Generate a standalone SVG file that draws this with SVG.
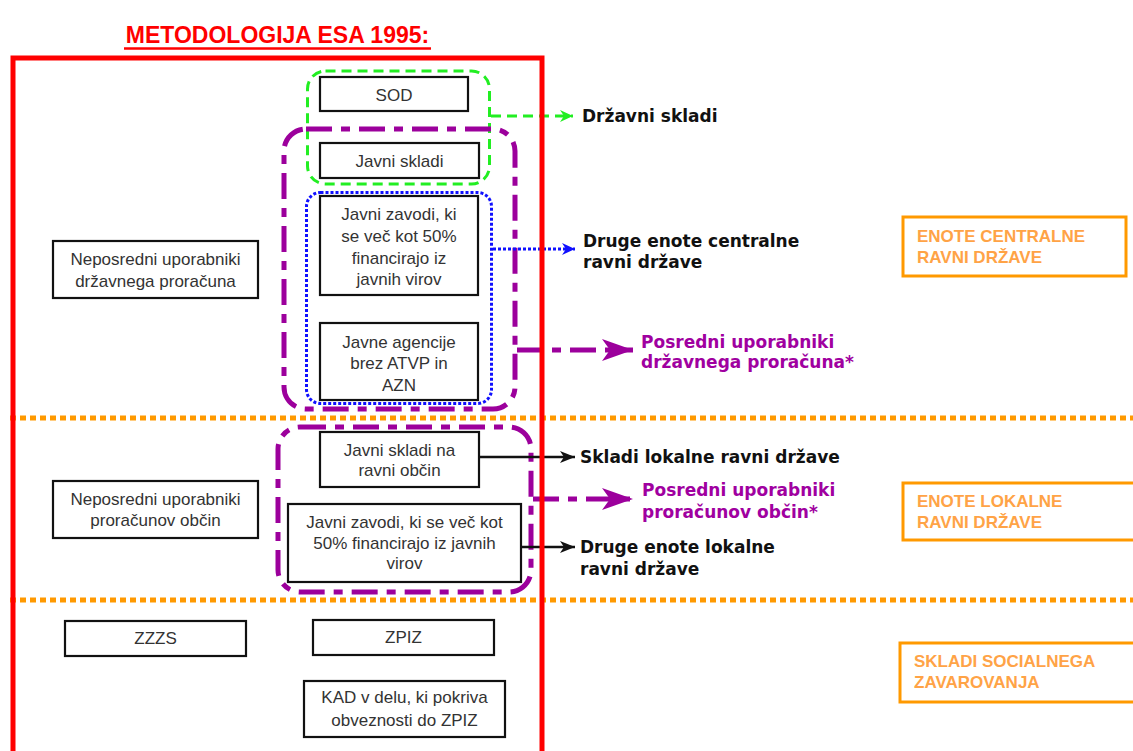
<svg xmlns="http://www.w3.org/2000/svg" width="1133" height="751" viewBox="0 0 1133 751">
  <style>
    .box { fill: #ffffff; stroke: #111111; stroke-width: 2.2; }
    .bt { font-family: "Liberation Sans", Arial, sans-serif; font-size: 17px; fill: #333333; text-anchor: middle; }
    .lbl { font-family: "DejaVu Sans", Verdana, sans-serif; font-size: 17px; font-weight: bold; fill: #111111; }
    .plbl { font-family: "DejaVu Sans", Verdana, sans-serif; font-size: 17px; font-weight: bold; fill: #a000a0; }
    .obox { fill: #ffffff; stroke: #ff9900; stroke-width: 3; }
    .ot { font-family: "Liberation Sans", Arial, sans-serif; font-size: 17px; font-weight: bold; fill: #ffa346; }
    .sep { stroke: #ff9900; stroke-width: 5; stroke-dasharray: 6 4; fill: none; }
    .grp-purple { fill: none; stroke: #9c009c; stroke-width: 5; stroke-dasharray: 26 9 9 9; }
    .grp-green { fill: none; stroke: #22ee22; stroke-width: 3; stroke-dasharray: 10 6; }
    .grp-blue { fill: none; stroke: #1010ff; stroke-width: 3; stroke-dasharray: 3 2; }
  </style>
  <defs>
    <marker id="ah-green" markerUnits="userSpaceOnUse" markerWidth="14" markerHeight="12" refX="13" refY="6" orient="auto">
      <path d="M0,0 L13,6 L0,12 L4,6 Z" fill="#22ee22"/>
    </marker>
    <marker id="ah-blue" markerUnits="userSpaceOnUse" markerWidth="14" markerHeight="12" refX="13" refY="6" orient="auto">
      <path d="M0,0 L13,6 L0,12 L4,6 Z" fill="#1010ff"/>
    </marker>
    <marker id="ah-black" markerUnits="userSpaceOnUse" markerWidth="16" markerHeight="12" refX="15" refY="6" orient="auto">
      <path d="M0,0 L15,6 L0,12 L4,6 Z" fill="#111111"/>
    </marker>
    <marker id="ah-purple" markerUnits="userSpaceOnUse" markerWidth="32" markerHeight="22" refX="31" refY="11" orient="auto">
      <path d="M0,0 L31,11 L0,22 L8,11 Z" fill="#9c009c"/>
    </marker>
  </defs>

  <rect x="0" y="0" width="1133" height="751" fill="#ffffff"/>

  <!-- title -->
  <g id="title">
    <text x="277.5" y="43" font-family="Liberation Sans, Arial, sans-serif" font-size="23" font-weight="bold" fill="#ff0000" text-anchor="middle">METODOLOGIJA ESA 1995:</text>
    <line x1="124" y1="48.5" x2="431" y2="48.5" stroke="#ff0000" stroke-width="2.5"/>
  </g>

  <!-- level separators -->
  <g id="separators">
    <line class="sep" x1="10" y1="418" x2="1133" y2="418"/>
    <line class="sep" x1="10" y1="600" x2="1133" y2="600"/>
  </g>

  <!-- grouping outlines -->
  <g id="group-state-funds">
    <rect class="grp-green" x="307.5" y="71" width="182" height="113" rx="18"/>
  </g>
  <g id="group-indirect-state">
    <rect class="grp-purple" x="284" y="129" width="231" height="280" rx="22"/>
  </g>
  <g id="group-other-central">
    <rect class="grp-blue" x="306.5" y="192.5" width="185" height="211" rx="14"/>
  </g>
  <g id="group-indirect-local">
    <rect class="grp-purple" x="278" y="427" width="253" height="165" rx="22"/>
  </g>

  <!-- central level units -->
  <g id="node-sod">
    <rect class="box" x="320" y="77" width="148" height="34"/>
    <text class="bt" x="394" y="101">SOD</text>
  </g>
  <g id="node-javni-skladi">
    <rect class="box" x="320" y="143" width="159" height="35"/>
    <text class="bt" x="399.5" y="167">Javni skladi</text>
  </g>
  <g id="node-javni-zavodi">
    <rect class="box" x="320" y="196" width="158" height="99"/>
    <text class="bt" x="399" y="220">Javni zavodi, ki</text>
    <text class="bt" x="399" y="242">se več kot 50%</text>
    <text class="bt" x="399" y="264">financirajo iz</text>
    <text class="bt" x="399" y="285">javnih virov</text>
  </g>
  <g id="node-javne-agencije">
    <rect class="box" x="320" y="323" width="158" height="77"/>
    <text class="bt" x="399" y="348">Javne agencije</text>
    <text class="bt" x="399" y="369">brez ATVP in</text>
    <text class="bt" x="399" y="391">AZN</text>
  </g>
  <g id="node-neposredni-drzava">
    <rect class="box" x="53" y="241" width="205" height="57"/>
    <text class="bt" x="155.5" y="265">Neposredni uporabniki</text>
    <text class="bt" x="155.5" y="287">državnega proračuna</text>
  </g>

  <!-- local level units -->
  <g id="node-skladi-obcin">
    <rect class="box" x="320" y="432" width="159" height="55"/>
    <text class="bt" x="399.5" y="456">Javni skladi na</text>
    <text class="bt" x="399.5" y="476">ravni občin</text>
  </g>
  <g id="node-zavodi-obcin">
    <rect class="box" x="288" y="504" width="233" height="78"/>
    <text class="bt" x="404.5" y="528">Javni zavodi, ki se več kot</text>
    <text class="bt" x="404.5" y="549">50% financirajo iz javnih</text>
    <text class="bt" x="404.5" y="569">virov</text>
  </g>
  <g id="node-neposredni-obcine">
    <rect class="box" x="53" y="481" width="205" height="57"/>
    <text class="bt" x="155.5" y="505">Neposredni uporabniki</text>
    <text class="bt" x="155.5" y="526">proračunov občin</text>
  </g>

  <!-- social security funds -->
  <g id="node-zzzs">
    <rect class="box" x="65" y="621" width="181" height="35"/>
    <text class="bt" x="155.5" y="644">ZZZS</text>
  </g>
  <g id="node-zpiz">
    <rect class="box" x="313" y="620" width="181" height="35"/>
    <text class="bt" x="403.5" y="643">ZPIZ</text>
  </g>
  <g id="node-kad">
    <rect class="box" x="304" y="681" width="201" height="56"/>
    <text class="bt" x="404.5" y="703">KAD v delu, ki pokriva</text>
    <text class="bt" x="404.5" y="726">obveznosti do ZPIZ</text>
  </g>

  <!-- connectors -->
  <g id="connectors">
    <line x1="491" y1="116" x2="573" y2="116" stroke="#22ee22" stroke-width="3" stroke-dasharray="10 6" marker-end="url(#ah-green)"/>
    <line x1="493" y1="249" x2="575" y2="249" stroke="#1010ff" stroke-width="3" stroke-dasharray="3 2" marker-end="url(#ah-blue)"/>
    <line x1="517" y1="350" x2="633" y2="350" stroke="#9c009c" stroke-width="5" stroke-dasharray="26 9 9 9" marker-end="url(#ah-purple)"/>
    <line x1="479" y1="457" x2="575" y2="457" stroke="#111111" stroke-width="2.5" marker-end="url(#ah-black)"/>
    <line x1="533" y1="499" x2="633" y2="499" stroke="#9c009c" stroke-width="5" stroke-dasharray="26 9 9 9" marker-end="url(#ah-purple)"/>
    <line x1="521" y1="547" x2="575" y2="547" stroke="#111111" stroke-width="2.5" marker-end="url(#ah-black)"/>
  </g>

  <!-- ESA 1995 frame -->
  <g id="frame-esa">
    <rect x="13" y="58" width="529" height="720" fill="none" stroke="#ff0000" stroke-width="5"/>
  </g>

  <!-- target categories -->
  <g id="label-drzavni-skladi">
    <text class="lbl" x="582" y="122">Državni skladi</text>
  </g>
  <g id="label-druge-centralne">
    <text class="lbl" x="583" y="247">Druge enote centralne</text>
    <text class="lbl" x="583" y="268">ravni države</text>
  </g>
  <g id="label-posredni-drzava">
    <text class="plbl" x="641" y="348">Posredni uporabniki</text>
    <text class="plbl" x="641" y="368">državnega proračuna*</text>
  </g>
  <g id="label-skladi-lokalne">
    <text class="lbl" x="580" y="463">Skladi lokalne ravni države</text>
  </g>
  <g id="label-posredni-obcine">
    <text class="plbl" x="642" y="496">Posredni uporabniki</text>
    <text class="plbl" x="642" y="518">proračunov občin*</text>
  </g>
  <g id="label-druge-lokalne">
    <text class="lbl" x="580" y="553">Druge enote lokalne</text>
    <text class="lbl" x="580" y="575">ravni države</text>
  </g>

  <!-- sector boxes -->
  <g id="sector-central">
    <rect class="obox" x="903" y="217" width="223" height="59"/>
    <text class="ot" x="917" y="242">ENOTE CENTRALNE</text>
    <text class="ot" x="917" y="263">RAVNI DRŽAVE</text>
  </g>
  <g id="sector-local">
    <rect class="obox" x="903" y="483" width="240" height="57"/>
    <text class="ot" x="917" y="507">ENOTE LOKALNE</text>
    <text class="ot" x="917" y="528">RAVNI DRŽAVE</text>
  </g>
  <g id="sector-social">
    <rect class="obox" x="900" y="643" width="243" height="59"/>
    <text class="ot" x="914" y="667">SKLADI SOCIALNEGA</text>
    <text class="ot" x="914" y="688">ZAVAROVANJA</text>
  </g>
</svg>
